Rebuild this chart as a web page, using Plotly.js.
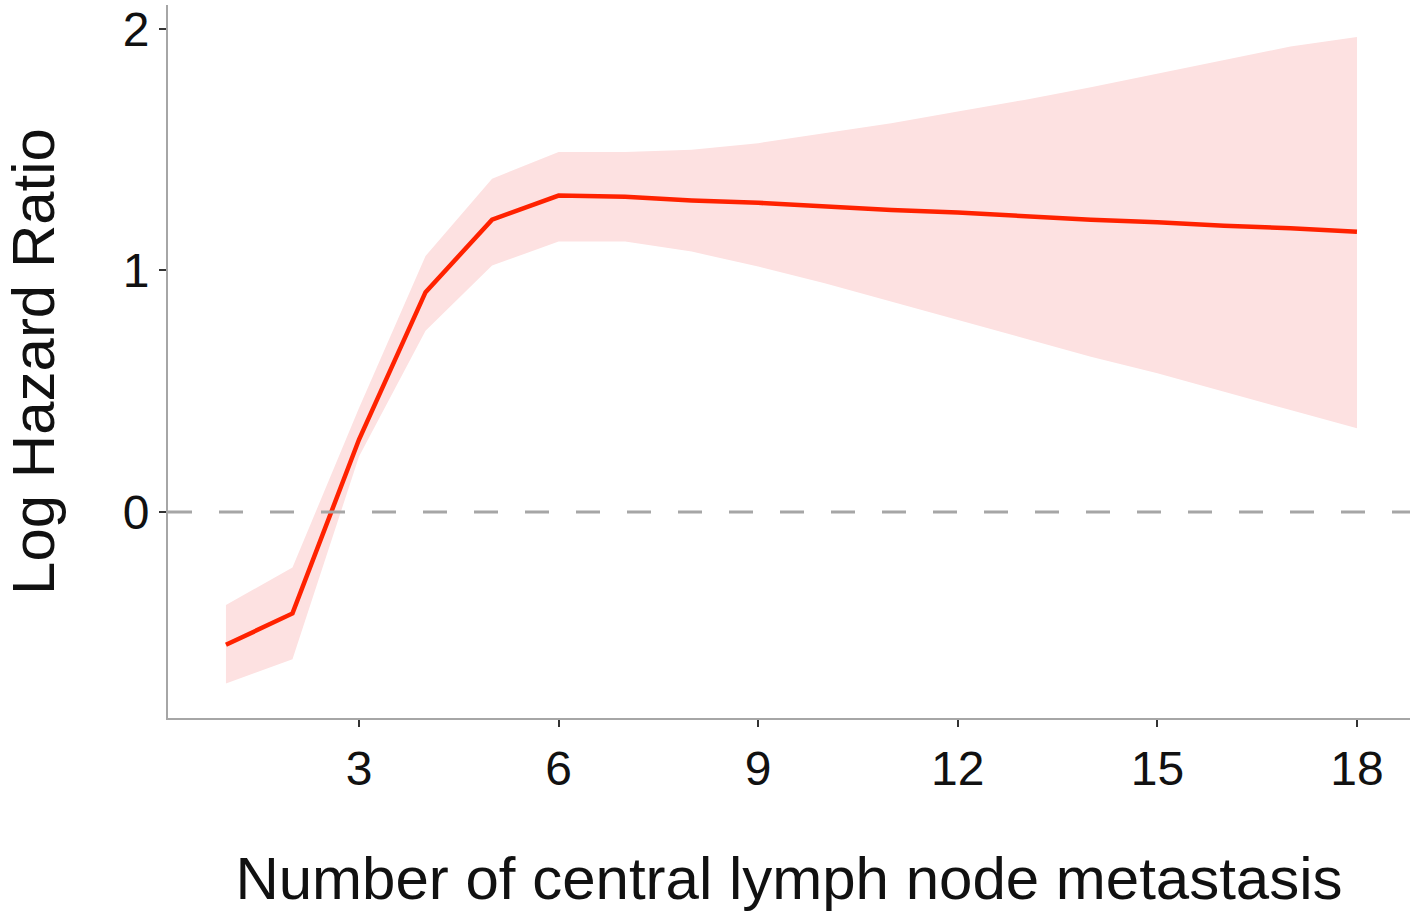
<!DOCTYPE html>
<html>
<head>
<meta charset="utf-8">
<script src="https://cdn.plot.ly/plotly-3.0.1.min.js"></script>
<style>
  html, body { margin: 0; padding: 0; background: #ffffff; }
  #chart { width: 1416px; height: 917px; }
</style>
</head>
<body>
<div id="chart"></div>
<script>
// Number of central lymph node metastasis
const nodes = [1, 2, 3, 4, 5, 6, 7, 8, 9, 10, 11, 12, 13, 14, 15, 16, 17, 18];
// Log hazard ratio estimate
const logHR = [-0.55, -0.42, 0.30, 0.91, 1.21, 1.31, 1.305, 1.29, 1.28, 1.265, 1.25, 1.24, 1.225, 1.21, 1.20, 1.185, 1.175, 1.16];
// 95% CI bounds
const upperCI = [-0.385, -0.23, 0.43, 1.06, 1.38, 1.49, 1.49, 1.50, 1.527, 1.568, 1.609, 1.658, 1.706, 1.758, 1.814, 1.872, 1.927, 1.966];
const lowerCI = [-0.71, -0.61, 0.23, 0.75, 1.02, 1.12, 1.12, 1.078, 1.016, 0.947, 0.871, 0.795, 0.719, 0.643, 0.574, 0.498, 0.422, 0.347];
const xTicks = [3, 6, 9, 12, 15, 18];
const yTicks = [0, 1, 2];

const bandFill = '#FDE1E1';
const lineColor = '#FF2200';

const traces = [
  {
    x: nodes.concat(nodes.slice().reverse()),
    y: upperCI.concat(lowerCI.slice().reverse()),
    type: 'scatter', mode: 'lines',
    fill: 'toself', fillcolor: bandFill,
    line: { width: 0, color: bandFill },
    hoverinfo: 'skip', showlegend: false
  },
  {
    x: nodes, y: logHR,
    type: 'scatter', mode: 'lines',
    line: { color: lineColor, width: 4.5 },
    showlegend: false
  }
];

const font = 'Liberation Sans, Arial, Helvetica, sans-serif';

const layout = {
  width: 1416, height: 917,
  margin: { l: 168, r: 6, t: 5, b: 199 },
  paper_bgcolor: '#ffffff', plot_bgcolor: '#ffffff',
  showlegend: false,
  font: { family: font, color: '#111111' },
  xaxis: {
    range: [0.129, 18.797],
    tickvals: xTicks, ticktext: xTicks.map(String),
    showgrid: false, zeroline: false,
    showline: true, linecolor: '#a6a6a6', linewidth: 2,
    ticks: 'outside', ticklen: 7, tickwidth: 2, tickcolor: '#333333',
    tickfont: { family: font, size: 48, color: '#111111' },
    title: { text: 'Number of central lymph node metastasis', font: { family: font, size: 60, color: '#111111' }, standoff: 63 }
  },
  yaxis: {
    range: [-0.853, 2.099],
    tickvals: yTicks, ticktext: yTicks.map(String),
    showgrid: false, zeroline: false,
    showline: true, linecolor: '#a6a6a6', linewidth: 2,
    ticks: 'outside', ticklen: 7, tickwidth: 2, tickcolor: '#333333',
    tickfont: { family: font, size: 48, color: '#111111' },
    title: { text: 'Log Hazard Ratio', font: { family: font, size: 60, color: '#111111' }, standoff: 65 }
  },
  shapes: [
    {
      type: 'line', xref: 'paper', yref: 'y',
      x0: 0, x1: 1, y0: 0, y1: 0,
      line: { color: '#a6a6a6', width: 3, dash: '24px,27px' },
      layer: 'above'
    }
  ]
};

Plotly.newPlot('chart', traces, layout, { displayModeBar: false, staticPlot: true });
</script>
</body>
</html>
